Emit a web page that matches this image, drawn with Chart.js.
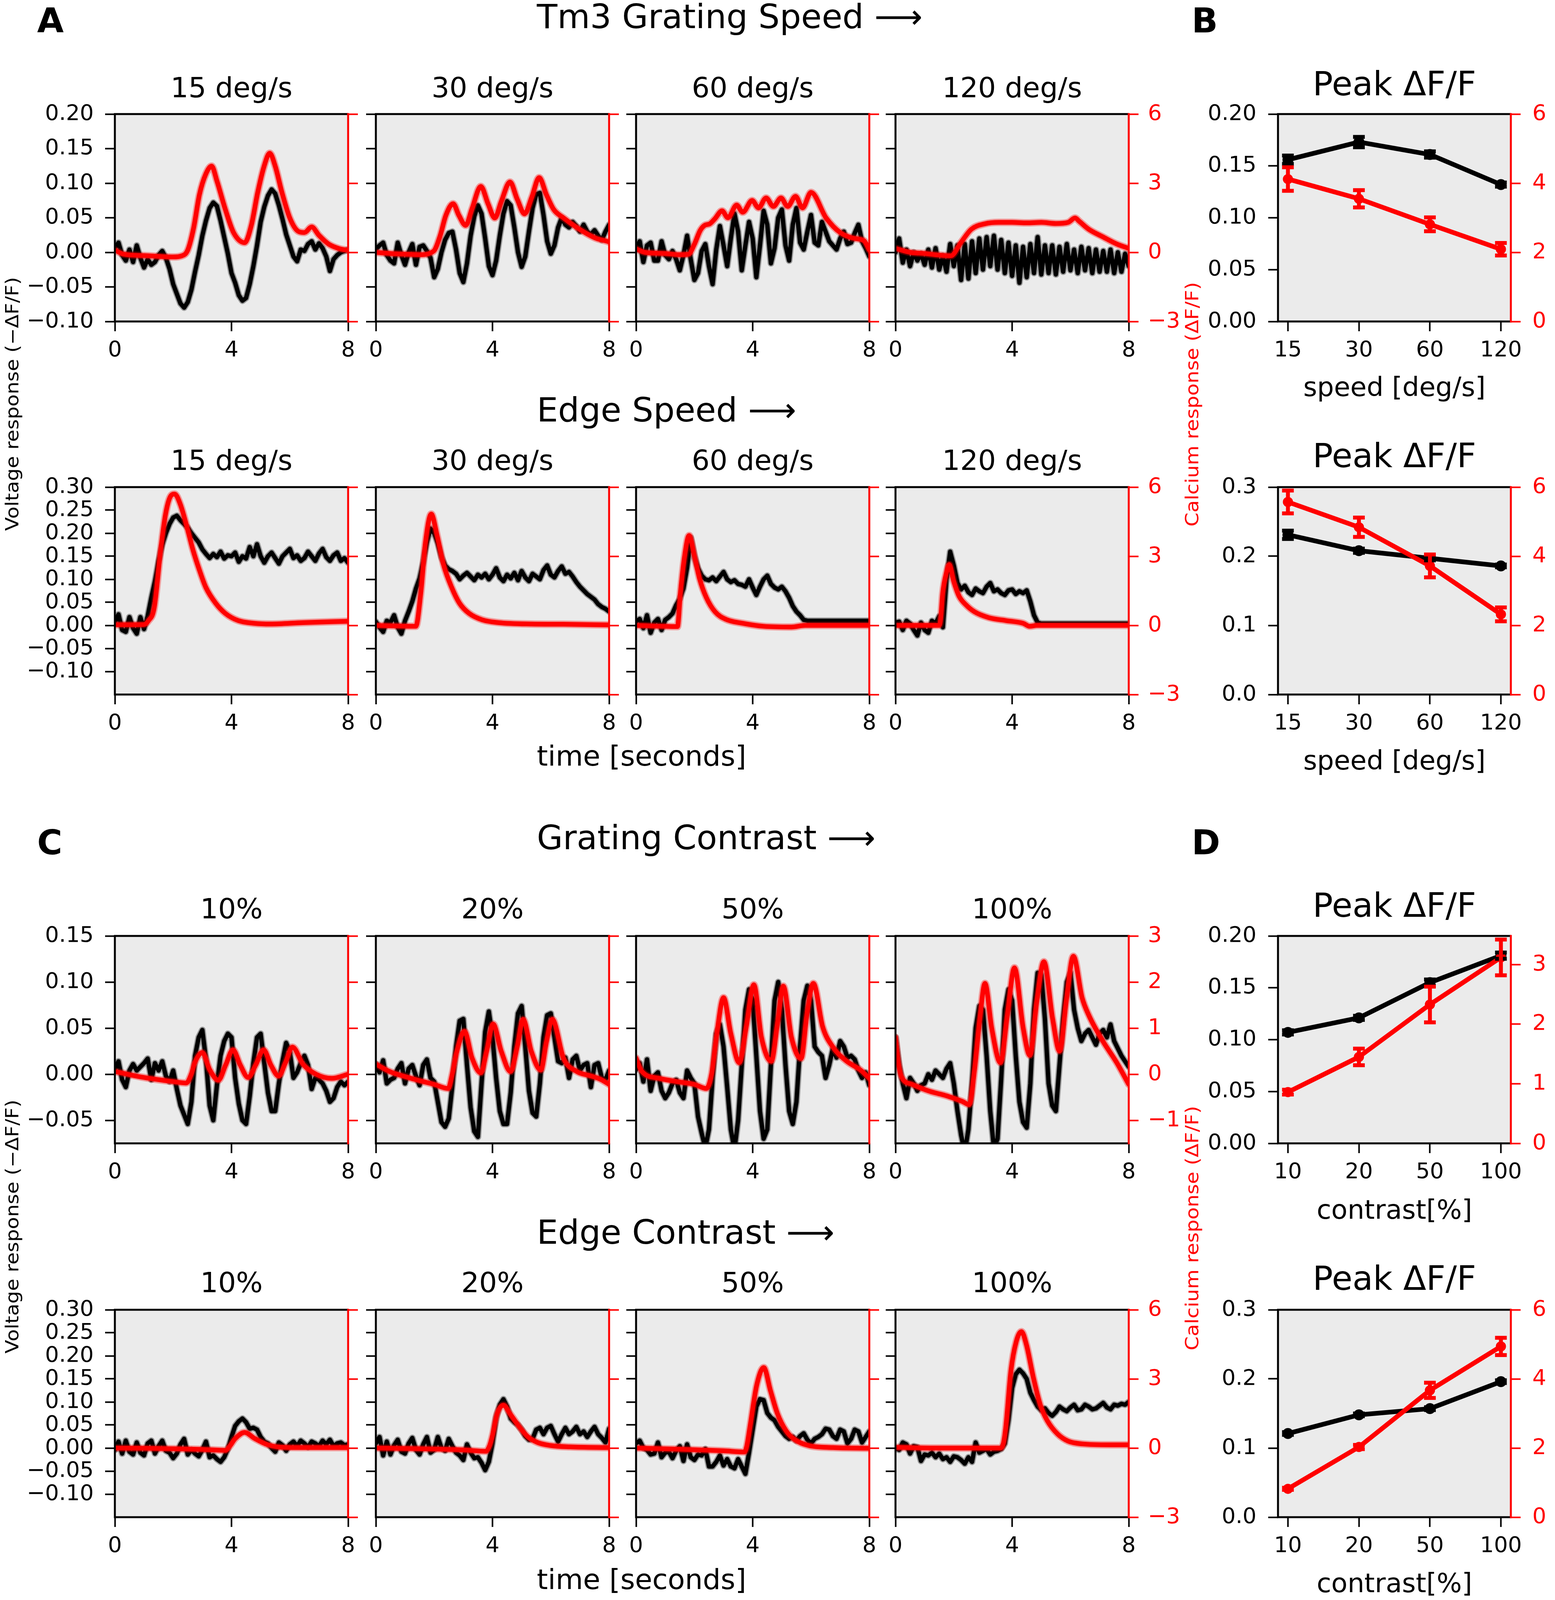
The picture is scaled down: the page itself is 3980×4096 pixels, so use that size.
<!DOCTYPE html>
<html>
<head>
<meta charset="utf-8">
<script src="https://cdn.jsdelivr.net/npm/chart.js@4.4.1/dist/chart.umd.min.js"></script>
<style>
  html, body { margin: 0; padding: 0; background: #fff; }
  #fig { position: relative; width: 3980px; height: 4096px; overflow: hidden; background: #fff; font-family: 'DejaVu Sans', sans-serif; }
  #fig canvas { position: absolute; }
  .txt { position: absolute; white-space: nowrap; line-height: 1; }
</style>
</head>
<body>
<div id="fig"></div>
<script>
//------------------------ DATA ----------------------------

const speedTitles = ["15 deg/s", "30 deg/s", "60 deg/s", "120 deg/s"];
const contrastTitles = ["10%", "20%", "50%", "100%"];
const speedCats = ["15", "30", "60", "120"];
const contrastCats = ["10", "20", "50", "100"];
const timeTicks = [0, 4, 8];
const blackStep = 0.125; // seconds between voltage samples

// Voltage response (-dF/F), one value every 0.125 s from 0 to 8 s
const gsV15 = [
  0.006, 0.014, -0.004, -0.012, 0.004, -0.014, 0.010, -0.008,
  -0.022, -0.010, -0.018, -0.014, -0.004, 0.002, -0.008, -0.024,
  -0.046, -0.060, -0.074, -0.080, -0.072, -0.054, -0.028, -0.004,
  0.024, 0.046, 0.064, 0.072, 0.067, 0.046, 0.022, -0.002,
  -0.030, -0.044, -0.062, -0.070, -0.066, -0.046, -0.020, 0.010,
  0.044, 0.066, 0.082, 0.091, 0.085, 0.068, 0.048, 0.026,
  0.010, -0.006, -0.013, 0.004, 0.002, 0.012, 0.016, 0.004,
  0.013, 0.006, -0.006, -0.027, -0.010, -0.004, 0.000, 0.002,
  0.004];
const gsV30 = [
  0.004, 0.010, 0.014, -0.004, -0.012, -0.016, 0.014, -0.004,
  -0.018, 0.000, 0.012, -0.018, 0.008, 0.010, 0.002, -0.008,
  -0.036, -0.024, 0.000, 0.018, 0.028, 0.030, 0.004, -0.030,
  -0.043, -0.016, 0.024, 0.052, 0.068, 0.056, 0.020, -0.020,
  -0.033, -0.012, 0.024, 0.056, 0.074, 0.068, 0.036, 0.000,
  -0.021, -0.006, 0.030, 0.064, 0.084, 0.086, 0.054, 0.016,
  -0.002, 0.010, 0.036, 0.050, 0.040, 0.036, 0.044, 0.038,
  0.030, 0.040, 0.030, 0.026, 0.032, 0.024, 0.018, 0.030,
  0.040];
const gsV60 = [
  0.004, 0.016, -0.014, 0.010, 0.014, -0.012, -0.012, 0.016,
  -0.004, -0.010, 0.002, -0.010, -0.026, -0.004, 0.024, -0.010,
  -0.040, -0.030, 0.002, 0.012, -0.020, -0.046, 0.004, 0.038,
  0.010, -0.020, 0.020, 0.056, 0.030, -0.026, 0.010, 0.044,
  0.020, -0.036, 0.010, 0.060, 0.040, -0.016, 0.006, 0.050,
  0.062, 0.010, -0.012, 0.040, 0.064, 0.014, 0.004, 0.030,
  0.054, 0.014, 0.010, 0.044, 0.030, 0.016, 0.010, 0.004,
  0.020, 0.030, 0.012, 0.014, 0.028, 0.040, 0.016, 0.006,
  -0.006];
const gsV120 = [
  0.000, 0.020, -0.015, 0.004, -0.020, 0.000, -0.012, -0.002,
  -0.018, 0.004, -0.022, 0.006, -0.025, -0.005, -0.028, 0.012,
  -0.020, 0.010, -0.040, 0.012, -0.038, 0.016, -0.030, 0.020,
  -0.025, 0.022, -0.020, 0.024, -0.025, 0.018, -0.030, 0.014,
  -0.034, 0.010, -0.044, 0.008, -0.036, 0.012, -0.030, 0.022,
  -0.032, 0.010, -0.030, 0.010, -0.032, 0.008, -0.028, 0.012,
  -0.026, 0.004, -0.030, 0.008, -0.026, 0.006, -0.030, 0.004,
  -0.028, 0.002, -0.028, 0.004, -0.030, 0.000, -0.028, -0.002,
  -0.020];
const esV15 = [
  0.006, 0.024, -0.010, -0.014, 0.018, -0.006, -0.018, 0.018,
  -0.008, 0.020, 0.060, 0.096, 0.140, 0.175, 0.200, 0.220,
  0.234, 0.238, 0.228, 0.220, 0.212, 0.200, 0.190, 0.180,
  0.165, 0.155, 0.146, 0.155, 0.148, 0.160, 0.145, 0.152,
  0.150, 0.158, 0.138, 0.150, 0.145, 0.170, 0.150, 0.176,
  0.150, 0.136, 0.150, 0.158, 0.146, 0.134, 0.150, 0.158,
  0.166, 0.146, 0.152, 0.140, 0.146, 0.160, 0.150, 0.140,
  0.156, 0.166, 0.148, 0.140, 0.152, 0.158, 0.140, 0.146,
  0.136];
const esV30 = [
  0.008, -0.004, -0.014, 0.010, 0.006, 0.022, -0.004, -0.018,
  0.010, 0.030, 0.052, 0.080, 0.102, 0.138, 0.180, 0.210,
  0.200, 0.178, 0.148, 0.130, 0.122, 0.118, 0.112, 0.100,
  0.108, 0.114, 0.106, 0.098, 0.110, 0.104, 0.112, 0.100,
  0.110, 0.124, 0.104, 0.096, 0.110, 0.102, 0.114, 0.098,
  0.118, 0.104, 0.096, 0.112, 0.106, 0.100, 0.120, 0.130,
  0.110, 0.104, 0.118, 0.128, 0.112, 0.116, 0.106, 0.094,
  0.084, 0.076, 0.068, 0.062, 0.056, 0.046, 0.040, 0.036,
  0.030];
const esV60 = [
  0.008, 0.014, -0.006, 0.022, -0.016, 0.006, 0.014, -0.010,
  0.012, 0.018, 0.026, 0.044, 0.058, 0.080, 0.125, 0.190,
  0.150, 0.124, 0.108, 0.100, 0.098, 0.104, 0.096, 0.106,
  0.116, 0.100, 0.094, 0.098, 0.090, 0.088, 0.084, 0.100,
  0.082, 0.066, 0.084, 0.100, 0.108, 0.090, 0.082, 0.078,
  0.084, 0.074, 0.060, 0.042, 0.030, 0.022, 0.012, 0.010,
  0.010, 0.010, 0.010, 0.010, 0.010, 0.010, 0.010, 0.010,
  0.010, 0.010, 0.010, 0.010, 0.010, 0.010, 0.010, 0.010,
  0.010];
const esV120 = [
  0.006, 0.008, -0.010, 0.010, 0.004, -0.010, -0.022, 0.006,
  -0.010, -0.016, 0.010, 0.004, 0.020, -0.004, 0.100, 0.160,
  0.130, 0.092, 0.078, 0.086, 0.072, 0.066, 0.080, 0.074,
  0.070, 0.084, 0.092, 0.074, 0.078, 0.070, 0.066, 0.076,
  0.078, 0.068, 0.074, 0.070, 0.076, 0.052, 0.022, 0.006,
  0.004, 0.004, 0.004, 0.004, 0.004, 0.004, 0.004, 0.004,
  0.004, 0.004, 0.004, 0.004, 0.004, 0.004, 0.004, 0.004,
  0.004, 0.004, 0.004, 0.004, 0.004, 0.004, 0.004, 0.004,
  0.004];
const gcV10 = [
  0.005, 0.014, -0.006, -0.014, 0.004, 0.011, 0.004, 0.008,
  0.012, 0.017, -0.006, 0.012, 0.004, 0.014, -0.002, -0.008,
  0.004, -0.016, -0.034, -0.044, -0.054, -0.030, 0.020, 0.040,
  0.048, 0.016, -0.034, -0.050, -0.012, 0.020, 0.036, 0.044,
  0.040, -0.004, -0.032, -0.050, -0.054, -0.024, 0.012, 0.040,
  0.044, 0.012, -0.020, -0.040, -0.040, -0.010, 0.014, 0.034,
  0.024, -0.004, 0.002, 0.012, 0.020, 0.010, -0.016, -0.004,
  -0.006, -0.010, -0.018, -0.030, -0.026, -0.014, -0.008, -0.012,
  -0.008];
const gcV20 = [
  0.011, 0.002, 0.015, -0.010, -0.006, -0.004, 0.006, 0.012,
  -0.010, 0.006, 0.010, -0.002, -0.012, 0.010, 0.016, -0.004,
  -0.008, -0.030, -0.052, -0.057, -0.048, -0.012, 0.030, 0.058,
  0.060, 0.010, -0.036, -0.062, -0.068, -0.010, 0.046, 0.068,
  0.040, -0.004, -0.040, -0.054, -0.054, -0.020, 0.030, 0.066,
  0.074, 0.030, -0.018, -0.042, -0.046, -0.010, 0.040, 0.064,
  0.066, 0.040, 0.014, 0.012, 0.018, -0.004, 0.016, 0.020,
  0.004, 0.010, 0.012, -0.014, 0.010, 0.012, -0.004, -0.006,
  0.004];
const gcV50 = [
  0.005, 0.012, -0.008, 0.016, -0.018, -0.002, 0.002, -0.018,
  -0.026, -0.020, -0.010, -0.006, -0.020, -0.026, 0.004, -0.004,
  -0.010, -0.046, -0.064, -0.080, -0.060, -0.004, 0.044, 0.054,
  0.030, -0.014, -0.060, -0.082, -0.050, 0.010, 0.070, 0.092,
  0.080, 0.020, -0.040, -0.070, -0.060, 0.010, 0.080, 0.100,
  0.070, 0.010, -0.040, -0.054, -0.030, 0.030, 0.080, 0.096,
  0.080, 0.030, 0.024, 0.020, -0.004, 0.010, 0.028, 0.018,
  0.036, 0.030, 0.018, 0.020, 0.016, 0.004, -0.004, 0.002,
  -0.012];
const gcV100 = [
  0.040, 0.010, -0.010, -0.026, -0.004, -0.010, -0.018, -0.012,
  -0.010, 0.000, -0.006, 0.004, 0.000, -0.004, 0.006, 0.012,
  -0.010, -0.040, -0.066, -0.085, -0.060, -0.010, 0.050, 0.074,
  0.070, 0.020, -0.040, -0.080, -0.070, -0.005, 0.070, 0.092,
  0.080, 0.020, -0.030, -0.052, -0.058, -0.010, 0.070, 0.110,
  0.108, 0.060, -0.010, -0.034, -0.040, 0.010, 0.060, 0.100,
  0.110, 0.070, 0.050, 0.036, 0.044, 0.048, 0.040, 0.032,
  0.044, 0.048, 0.040, 0.054, 0.036, 0.028, 0.020, 0.014,
  0.008];
const ecV10 = [
  -0.004, 0.014, -0.012, 0.016, -0.008, -0.014, 0.012, -0.010,
  -0.016, 0.010, 0.016, -0.012, 0.004, 0.016, -0.006, -0.010,
  -0.022, -0.012, 0.008, 0.020, -0.014, -0.004, -0.012, -0.018,
  -0.004, 0.014, -0.020, -0.016, -0.024, -0.030, -0.020, -0.002,
  0.024, 0.048, 0.058, 0.064, 0.056, 0.042, 0.044, 0.040,
  0.024, 0.014, 0.010, 0.000, -0.008, 0.012, 0.006, -0.006,
  0.008, 0.014, 0.004, 0.016, 0.010, 0.002, 0.014, 0.010,
  0.004, 0.016, 0.008, 0.018, 0.004, 0.010, 0.012, 0.006,
  0.008];
const ecV20 = [
  0.010, 0.024, -0.016, 0.014, -0.014, 0.006, 0.018, -0.008,
  -0.012, 0.010, 0.022, -0.004, -0.014, 0.008, 0.024, -0.010,
  -0.004, 0.024, 0.000, -0.006, 0.020, 0.004, -0.010, -0.016,
  -0.026, 0.008, -0.010, -0.022, -0.020, -0.032, -0.048, -0.030,
  0.010, 0.066, 0.094, 0.106, 0.090, 0.064, 0.056, 0.050,
  0.040, 0.026, 0.018, 0.020, 0.040, 0.044, 0.030, 0.044,
  0.048, 0.030, 0.014, 0.030, 0.044, 0.030, 0.036, 0.046,
  0.030, 0.036, 0.024, 0.036, 0.046, 0.030, 0.022, 0.012,
  0.042];
const ecV50 = [
  0.010, 0.016, 0.000, -0.004, -0.014, -0.012, 0.012, -0.020,
  -0.010, -0.008, -0.022, -0.006, 0.004, -0.028, 0.008, -0.020,
  -0.026, -0.014, -0.016, -0.002, -0.040, -0.040, -0.030, -0.016,
  -0.038, -0.024, -0.040, -0.044, -0.024, -0.040, -0.056, -0.010,
  0.040, 0.090, 0.106, 0.104, 0.076, 0.066, 0.060, 0.046,
  0.036, 0.026, 0.020, 0.024, 0.016, 0.026, 0.032, 0.018,
  0.010, 0.020, 0.024, 0.030, 0.042, 0.040, 0.026, 0.020,
  0.040, 0.036, 0.010, 0.020, 0.040, 0.036, 0.012, 0.024,
  0.036];
const ecV100 = [
  0.000, -0.004, 0.012, 0.008, -0.012, 0.004, 0.002, -0.028,
  -0.014, -0.016, -0.010, -0.020, -0.012, -0.024, -0.020, -0.030,
  -0.018, -0.020, -0.026, -0.034, -0.020, -0.030, 0.012, -0.010,
  -0.006, -0.002, -0.014, -0.008, -0.006, -0.002, 0.010, 0.060,
  0.130, 0.160, 0.170, 0.162, 0.150, 0.120, 0.104, 0.090,
  0.082, 0.086, 0.076, 0.070, 0.078, 0.090, 0.084, 0.080,
  0.088, 0.094, 0.082, 0.084, 0.094, 0.090, 0.084, 0.086,
  0.092, 0.098, 0.088, 0.084, 0.094, 0.092, 0.096, 0.094,
  0.100];

// Calcium response (dF/F) as [time s, value] points
const gsC15 = [[0, 0.1], [0.3, -0.08], [1, -0.14], [2, -0.2], [2.3, -0.15], [2.5, 0.1], [2.7, 1.05], [2.9, 2.5], [3.12, 3.4], [3.32, 3.74], [3.5, 3.1], [3.79, 1.86], [4.07, 0.86], [4.45, 0.42], [4.68, 1.17], [4.9, 2.6], [5.12, 3.74], [5.31, 4.3], [5.5, 3.74], [5.73, 2.6], [6.0, 1.49], [6.28, 0.92], [6.5, 0.86], [6.75, 1.1], [7.0, 0.74], [7.33, 0.36], [7.67, 0.17], [8, 0.08]];
const gsC30 = [[0, 0], [0.5, -0.05], [1, -0.08], [1.5, -0.1], [1.98, 0.05], [2.2, 0.7], [2.4, 1.6], [2.65, 2.11], [2.85, 1.6], [3.08, 1.17], [3.3, 1.9], [3.6, 2.86], [3.85, 2.1], [4.08, 1.49], [4.3, 2.2], [4.6, 3.05], [4.85, 2.3], [5.1, 1.67], [5.35, 2.4], [5.6, 3.24], [5.85, 2.5], [6.1, 1.86], [6.44, 1.49], [7.0, 0.99], [7.55, 0.61], [7.9, 0.49], [8, 0.45]];
const gsC60 = [[0, 0.15], [0.3, 0], [1, -0.05], [1.5, -0.1], [1.8, -0.08], [2.0, 0.35], [2.2, 0.95], [2.35, 1.17], [2.53, 1.24], [2.7, 1.45], [2.95, 1.8], [3.15, 1.5], [3.45, 2.05], [3.66, 1.74], [3.98, 2.25], [4.2, 1.93], [4.46, 2.36], [4.71, 1.99], [4.97, 2.36], [5.2, 1.99], [5.47, 2.43], [5.71, 1.93], [6.0, 2.6], [6.52, 1.49], [7.0, 0.86], [7.47, 0.61], [7.82, 0.5], [8, 0.1]];
const gsC120 = [[0, 0.17], [0.5, 0.0], [1, -0.05], [1.5, -0.12], [1.9, -0.15], [2.24, 0.42], [2.6, 1.0], [3.07, 1.24], [3.54, 1.3], [4, 1.3], [4.5, 1.28], [5, 1.3], [5.5, 1.25], [5.92, 1.3], [6.16, 1.49], [6.3, 1.35], [6.63, 1.0], [7.1, 0.68], [7.59, 0.36], [8, 0.17]];
const esC15 = [[0, 0.03], [1.0, 0.04], [1.15, 0.2], [1.35, 0.77], [1.57, 3.27], [1.74, 4.83], [1.9, 5.58], [2.05, 5.7], [2.24, 5.27], [2.46, 4.33], [2.68, 3.27], [2.9, 2.4], [3.12, 1.65], [3.46, 0.96], [3.79, 0.52], [4.23, 0.21], [4.79, 0.09], [5.34, 0.06], [6.45, 0.12], [8, 0.18]];
const esC30 = [[0, 0], [1.37, -0.04], [1.54, 1.4], [1.7, 3.58], [1.9, 4.83], [2.1, 3.9], [2.32, 2.64], [2.6, 1.65], [2.87, 0.96], [3.2, 0.52], [3.65, 0.24], [4.21, 0.12], [5.33, 0.06], [6.44, 0.05], [8, 0.02]];
const esC60 = [[0, 0], [1.42, -0.05], [1.52, 1.4], [1.66, 2.96], [1.82, 3.9], [2.0, 3.02], [2.18, 2.02], [2.41, 1.21], [2.71, 0.59], [3.07, 0.27], [3.66, 0.09], [4.38, -0.04], [5.33, -0.07], [5.8, 0], [8, 0]];
const esC120 = [[0, 0], [1.5, 0.0], [1.55, 0.3], [1.62, 1.4], [1.75, 2.3], [1.84, 2.64], [2.0, 1.9], [2.18, 1.27], [2.41, 0.9], [2.71, 0.59], [3.19, 0.34], [3.78, 0.21], [4.38, 0.09], [4.61, -0.04], [4.85, 0], [8, 0]];
const gcC10 = [[0, 0.06], [0.9, -0.06], [2.0, -0.16], [2.45, -0.19], [2.62, 0.0], [2.74, 0.25], [3.0, 0.47], [3.25, 0.1], [3.55, -0.13], [3.8, 0.2], [4.05, 0.53], [4.3, 0.2], [4.57, -0.07], [4.83, 0.2], [5.1, 0.53], [5.35, 0.2], [5.62, -0.04], [5.85, 0.25], [6.09, 0.59], [6.45, 0.22], [6.9, 0.0], [7.44, -0.09], [8, 0.0]];
const gcC20 = [[0, 0.22], [0.5, 0.05], [1.0, -0.05], [1.5, -0.14], [2.0, -0.22], [2.48, -0.31], [2.62, 0.0], [2.76, 0.45], [3.04, 0.93], [3.3, 0.35], [3.6, 0.03], [3.8, 0.5], [4.02, 1.09], [4.3, 0.5], [4.62, 0.06], [4.85, 0.6], [5.05, 1.19], [5.33, 0.5], [5.66, 0.09], [5.85, 0.7], [6.05, 1.19], [6.44, 0.34], [6.89, 0.06], [7.33, -0.03], [7.67, -0.1], [8, -0.22]];
const gcC50 = [[0, 0.35], [0.2, 0.06], [0.8, -0.09], [1.4, -0.16], [2.0, -0.22], [2.41, -0.31], [2.59, 0.0], [2.77, 0.88], [3.0, 1.66], [3.25, 0.88], [3.54, 0.25], [3.78, 1.03], [4.04, 1.94], [4.3, 0.8], [4.64, 0.28], [4.85, 1.1], [5.05, 1.91], [5.33, 0.8], [5.66, 0.34], [5.86, 1.3], [6.08, 1.97], [6.4, 1.03], [6.75, 0.59], [7.23, 0.28], [7.7, 0.09], [8, -0.09]];
const gcC100 = [[0, 0.8], [0.1, 0.25], [0.21, -0.06], [0.57, -0.22], [1.17, -0.37], [1.76, -0.47], [2.29, -0.59], [2.53, -0.66], [2.71, 0.09], [2.89, 1.19], [3.07, 1.97], [3.3, 1.0], [3.6, 0.25], [3.84, 1.3], [4.08, 2.31], [4.38, 1.0], [4.61, 0.41], [4.85, 1.6], [5.09, 2.44], [5.39, 1.2], [5.63, 0.5], [5.86, 1.6], [6.1, 2.56], [6.4, 1.66], [6.63, 1.28], [7.11, 0.72], [7.59, 0.25], [8, -0.22]];
const ecC10 = [[0, 0.0], [1, -0.01], [2, -0.03], [3, -0.06], [3.79, -0.1], [3.95, 0.1], [4.12, 0.4], [4.45, 0.68], [4.79, 0.42], [5.23, 0.15], [5.67, 0.04], [6.5, 0.02], [8, 0.02]];
const ecC20 = [[0, 0.0], [1.5, -0.03], [3, -0.08], [3.77, -0.14], [3.9, 0.1], [4.0, 0.55], [4.16, 1.49], [4.38, 1.86], [4.6, 1.49], [4.88, 0.99], [5.21, 0.49], [5.55, 0.24], [5.99, 0.11], [6.66, 0.05], [8, 0.02]];
const ecC50 = [[0, 0.0], [1.5, -0.05], [3.0, -0.12], [3.72, -0.17], [3.8, 0.1], [3.9, 0.86], [4.14, 2.74], [4.38, 3.49], [4.61, 2.49], [4.85, 1.49], [5.15, 0.74], [5.45, 0.36], [5.92, 0.11], [6.75, 0.02], [8, -0.01]];
const ecC100 = [[0, 0.03], [1.5, 0.0], [3.0, 0.0], [3.6, 0.0], [3.7, 0.2], [3.78, 0.86], [3.96, 3.36], [4.14, 4.61], [4.32, 5.05], [4.49, 4.49], [4.73, 3.05], [4.97, 1.86], [5.21, 1.18], [5.56, 0.61], [5.92, 0.3], [6.4, 0.18], [7.35, 0.14], [8, 0.14]];

// Peak dF/F summaries (mean and error)
const gsPeakV = [0.156, 0.173, 0.161, 0.132];
const gsPeakVErr = [0.004, 0.005, 0.003, 0.002];
const gsPeakC = [4.12, 3.55, 2.81, 2.09];
const gsPeakCErr = [0.34, 0.25, 0.2, 0.18];
const esPeakV = [0.231, 0.208, 0.197, 0.186];
const esPeakVErr = [0.006, 0.003, 0.003, 0.002];
const esPeakC = [5.57, 4.84, 3.72, 2.32];
const esPeakCErr = [0.33, 0.28, 0.33, 0.2];
const gcPeakV = [0.107, 0.121, 0.155, 0.181];
const gcPeakVErr = [0.002, 0.002, 0.003, 0.003];
const gcPeakC = [0.86, 1.45, 2.33, 3.12];
const gcPeakCErr = [0.04, 0.14, 0.3, 0.3];
const ecPeakV = [0.121, 0.148, 0.157, 0.196];
const ecPeakVErr = [0.002, 0.002, 0.002, 0.002];
const ecPeakC = [0.82, 2.03, 3.67, 4.94];
const ecPeakCErr = [0.03, 0.06, 0.22, 0.25];

// Axis ranges and tick values
const gsLeftTicks = [-0.10, -0.05, 0, 0.05, 0.10, 0.15, 0.20];
const esLeftTicks = [-0.10, -0.05, 0, 0.05, 0.10, 0.15, 0.20, 0.25, 0.30];
const gcLeftTicks = [-0.05, 0, 0.05, 0.10, 0.15];
const wideRightTicks = [-3, 0, 3, 6];
const gcRightTicks = [-1, 0, 1, 2, 3];
const peakLeftTicksFine = [0, 0.05, 0.10, 0.15, 0.20];
const peakLeftTicksCoarse = [0, 0.1, 0.2, 0.3];
const peakRightTicks = [0, 2, 4, 6];
const gcPeakRightTicks = [0, 1, 2, 3];

//------------------------ LAYOUT & STYLE ----------------------------

const fig = document.getElementById("fig");
const RED = "#ff0000";
const AX_BG = "#ebebeb";
const TICK_FS = 56;
const SPINE = 5;
const COL_X = [294, 962, 1628, 2292];
const ROW_Y = [292, 1247, 2396, 3353];
const PW = 597, PH = 531;
const PEAK_X = 3271, PEAK_W = 596;

Chart.defaults.font.family = "'DejaVu Sans', sans-serif";

function makeCanvas(left, top, w, h) {
  const c = document.createElement("canvas");
  c.width = w;
  c.height = h;
  c.style.left = left + "px";
  c.style.top = top + "px";
  c.style.width = w + "px";
  c.style.height = h + "px";
  fig.appendChild(c);
  return c;
}

function signed(v, d) {
  return (v < -1e-9 ? "\u2212" : "") + Math.abs(v).toFixed(d);
}

// gray axes background + matplotlib-like spines
const framePlugin = {
  id: "frame",
  beforeDraw(chart) {
    const a = chart.chartArea, ctx = chart.ctx;
    ctx.save();
    ctx.fillStyle = AX_BG;
    ctx.fillRect(a.left, a.top, a.right - a.left, a.bottom - a.top);
    ctx.restore();
  },
  afterDraw(chart) {
    const a = chart.chartArea, ctx = chart.ctx, h = SPINE / 2;
    ctx.save();
    ctx.lineWidth = SPINE;
    ctx.strokeStyle = "#000";
    ctx.beginPath();
    ctx.moveTo(a.left, a.bottom + h); ctx.lineTo(a.left, a.top - h);
    ctx.moveTo(a.left - h, a.top); ctx.lineTo(a.right, a.top);
    ctx.moveTo(a.left - h, a.bottom); ctx.lineTo(a.right, a.bottom);
    ctx.stroke();
    ctx.strokeStyle = RED;
    ctx.beginPath();
    ctx.moveTo(a.right, a.top - h); ctx.lineTo(a.right, a.bottom + h);
    ctx.stroke();
    ctx.restore();
  },
};

// vertical error bars with caps for datasets that carry an `errors` array
const errorBarPlugin = {
  id: "errorBars",
  afterDatasetsDraw(chart) {
    const ctx = chart.ctx;
    const sets = chart.data.datasets;
    for (let i = sets.length - 1; i >= 0; i--) {
      const ds = sets[i];
      if (!ds.errors) continue;
      const ys = chart.scales[ds.yAxisID], xs = chart.scales.x;
      ctx.save();
      ctx.strokeStyle = ds.borderColor;
      ctx.lineWidth = 10;
      ds.data.forEach((p, j) => {
        const e = ds.errors[j];
        const px = xs.getPixelForValue(p.x);
        const lo = ys.getPixelForValue(p.y - e), hi = ys.getPixelForValue(p.y + e);
        ctx.beginPath();
        ctx.moveTo(px, lo); ctx.lineTo(px, hi);
        ctx.moveTo(px - 15, lo); ctx.lineTo(px + 15, lo);
        ctx.moveTo(px - 15, hi); ctx.lineTo(px + 15, hi);
        ctx.stroke();
      });
      ctx.restore();
    }
  },
};

function tickGrid(color) {
  return { display: true, drawOnChartArea: false, drawTicks: true, tickLength: 25, tickWidth: 4, tickColor: color };
}

function zeroPad(s) {
  s.paddingTop = 0; s.paddingBottom = 0; s.paddingLeft = 0; s.paddingRight = 0;
}

function xScale(min, max, values, labels, padB) {
  return {
    type: "linear", position: "bottom", min: min, max: max,
    afterBuildTicks: (s) => { s.ticks = values.map((v) => ({ value: v })); },
    afterFit: (s) => { s.height = padB; zeroPad(s); },
    grid: tickGrid("#000"),
    border: { display: false },
    ticks: {
      color: "#000", font: { size: TICK_FS }, padding: 16,
      autoSkip: false, maxRotation: 0, minRotation: 0,
      callback: (v, i) => (labels ? labels[i] : String(v)),
    },
  };
}

function yScale(position, min, max, values, opts) {
  return {
    type: "linear", position: position, min: min, max: max,
    afterBuildTicks: (s) => { s.ticks = values.map((v) => ({ value: v })); },
    afterFit: (s) => { s.width = opts.width; zeroPad(s); },
    grid: tickGrid(opts.color),
    border: { display: false },
    ticks: {
      color: opts.color, font: { size: TICK_FS }, padding: opts.padding,
      autoSkip: false, maxRotation: 0, minRotation: 0,
      callback: (v) => (opts.show ? signed(v, opts.dec) : ""),
    },
  };
}

function baseOptions(padT, scales) {
  return {
    responsive: false,
    animation: false,
    devicePixelRatio: 1,
    layout: { autoPadding: false, padding: { top: padT, left: 0, right: 0, bottom: 0 } },
    plugins: { legend: { display: false }, tooltip: { enabled: false }, title: { display: false } },
    elements: { point: { radius: 0 }, line: { borderJoinStyle: "round", borderCapStyle: "round" } },
    scales: scales,
  };
}

//------------------------ TRACE PANELS ----------------------------

function tracePanel(col, row, axes, black, red) {
  const left = COL_X[col], top = ROW_Y[row];
  const padL = col === 0 ? 240 : 40;
  const padR = col === 3 ? 140 : 40;
  const padT = 40, padB = 110;
  const canvas = makeCanvas(left - padL, top - padT, PW + padL + padR, PH + padT + padB);
  const blackPts = black.map((v, i) => ({ x: i * blackStep, y: v }));
  const redPts = red.map((p) => ({ x: p[0], y: p[1] }));
  new Chart(canvas, {
    type: "line",
    data: {
      datasets: [
        { data: redPts, yAxisID: "y2", borderColor: RED, borderWidth: 12, cubicInterpolationMode: "monotone", clip: 0, order: 0 },
        { data: redPts, yAxisID: "y2", borderColor: "rgba(255,0,0,0.35)", borderWidth: 19, cubicInterpolationMode: "monotone", clip: 0, order: 1 },
        { data: blackPts, yAxisID: "y", borderColor: "#000", borderWidth: 11, tension: 0, clip: 0, order: 2 },
        { data: blackPts, yAxisID: "y", borderColor: "rgba(0,0,0,0.35)", borderWidth: 17, tension: 0, clip: 0, order: 3 },
      ],
    },
    options: baseOptions(padT, {
      x: xScale(0, 8, timeTicks, null, padB),
      y: yScale("left", axes.yMin, axes.yMax, axes.yTicks, { width: padL, color: "#000", padding: 29, show: col === 0, dec: 2 }),
      y2: yScale("right", axes.rMin, axes.rMax, axes.rTicks, { width: padR, color: RED, padding: 24, show: col === 3, dec: 0 }),
    }),
    plugins: [framePlugin],
  });
}

const gsAxes = { yMin: -0.10, yMax: 0.20, yTicks: gsLeftTicks, rMin: -3, rMax: 6, rTicks: wideRightTicks };
const esAxes = { yMin: -0.15, yMax: 0.30, yTicks: esLeftTicks, rMin: -3, rMax: 6, rTicks: wideRightTicks };
const gcAxes = { yMin: -0.075, yMax: 0.15, yTicks: gcLeftTicks, rMin: -1.5, rMax: 3, rTicks: gcRightTicks };

[gsV15, gsV30, gsV60, gsV120].forEach((b, i) => tracePanel(i, 0, gsAxes, b, [gsC15, gsC30, gsC60, gsC120][i]));
[esV15, esV30, esV60, esV120].forEach((b, i) => tracePanel(i, 1, esAxes, b, [esC15, esC30, esC60, esC120][i]));
[gcV10, gcV20, gcV50, gcV100].forEach((b, i) => tracePanel(i, 2, gcAxes, b, [gcC10, gcC20, gcC50, gcC100][i]));
[ecV10, ecV20, ecV50, ecV100].forEach((b, i) => tracePanel(i, 3, esAxes, b, [ecC10, ecC20, ecC50, ecC100][i]));

//------------------------ PEAK PANELS ----------------------------

function peakPanel(row, cats, v, vErr, c, cErr, yMax, yTicks, yDec, rMax, rTicks) {
  const top = ROW_Y[row];
  const padL = 200, padR = 110, padT = 40, padB = 110;
  const canvas = makeCanvas(PEAK_X - padL, top - padT, PEAK_W + padL + padR, PH + padT + padB);
  new Chart(canvas, {
    type: "line",
    data: {
      datasets: [
        { data: c.map((y, i) => ({ x: i, y: y })), yAxisID: "y2", borderColor: RED, borderWidth: 12,
          pointRadius: 13, pointBackgroundColor: RED, pointBorderWidth: 0, tension: 0, errors: cErr, order: 0 },
        { data: v.map((y, i) => ({ x: i, y: y })), yAxisID: "y", borderColor: "#000", borderWidth: 12,
          pointRadius: 14, pointBackgroundColor: "#000", pointBorderWidth: 0, tension: 0, errors: vErr, order: 1 },
      ],
    },
    options: baseOptions(padT, {
      x: xScale(-0.14, 3.14, [0, 1, 2, 3], cats, padB),
      y: yScale("left", 0, yMax, yTicks, { width: padL, color: "#000", padding: 30, show: true, dec: yDec }),
      y2: yScale("right", 0, rMax, rTicks, { width: padR, color: RED, padding: 30, show: true, dec: 0 }),
    }),
    plugins: [framePlugin, errorBarPlugin],
  });
}

peakPanel(0, speedCats, gsPeakV, gsPeakVErr, gsPeakC, gsPeakCErr, 0.20, peakLeftTicksFine, 2, 6, peakRightTicks);
peakPanel(1, speedCats, esPeakV, esPeakVErr, esPeakC, esPeakCErr, 0.30, peakLeftTicksCoarse, 1, 6, peakRightTicks);
peakPanel(2, contrastCats, gcPeakV, gcPeakVErr, gcPeakC, gcPeakCErr, 0.20, peakLeftTicksFine, 2, 3.48, gcPeakRightTicks);
peakPanel(3, contrastCats, ecPeakV, ecPeakVErr, ecPeakC, ecPeakCErr, 0.30, peakLeftTicksCoarse, 1, 6, peakRightTicks);

//------------------------ TEXT ----------------------------

function addText(str, x, base, size, opt) {
  opt = opt || {};
  const el = document.createElement("div");
  el.className = "txt";
  el.textContent = str;
  el.style.fontSize = size + "px";
  el.style.color = opt.color || "#000";
  if (opt.bold) el.style.fontWeight = "bold";
  el.style.left = x + "px";
  el.style.top = (base - 0.846 * size) + "px";
  if (opt.center) el.style.transform = "translateX(-50%)";
  fig.appendChild(el);
}

function addVText(str, cx, cy, size, len, color) {
  const el = document.createElement("div");
  el.className = "txt";
  el.textContent = str;
  el.style.fontSize = size + "px";
  el.style.color = color;
  fig.appendChild(el);
  const w = el.offsetWidth;
  el.style.left = cx + "px";
  el.style.top = cy + "px";
  el.style.transform = "translate(-50%,-50%) rotate(-90deg) scaleX(" + (len / w) + ")";
}

addText("A", 95, 83, 88, { bold: true });
addText("B", 3050, 83, 88, { bold: true });
addText("C", 95, 2187, 88, { bold: true });
addText("D", 3050, 2187, 88, { bold: true });

addText("Tm3 Grating Speed \u27F6", 1374, 72, 86);
addText("Edge Speed \u27F6", 1374, 1079, 86);
addText("Grating Contrast \u27F6", 1374, 2174, 86);
addText("Edge Contrast \u27F6", 1374, 3184, 86);

const titleBase = [249, 1203, 2351, 3308];
[speedTitles, speedTitles, contrastTitles, contrastTitles].forEach((names, r) => {
  names.forEach((t, c) => addText(t, COL_X[c] + PW / 2, titleBase[r], 72, { center: true }));
});

const peakCx = PEAK_X + PEAK_W / 2;
[244, 1196, 2347, 3302].forEach((b) => addText("Peak \u0394F/F", peakCx, b, 86, { center: true }));

addText("time [seconds]", 1374, 1960, 72);
addText("time [seconds]", 1374, 4068, 72);
addText("speed [deg/s]", peakCx, 1015, 68, { center: true });
addText("speed [deg/s]", peakCx, 1971, 68, { center: true });
addText("contrast[%]", peakCx, 3121, 68, { center: true });
addText("contrast[%]", peakCx, 4077, 68, { center: true });

addVText("Voltage response (\u2212\u0394F/F)", 31, 1034, 46, 650, "#000");
addVText("Voltage response (\u2212\u0394F/F)", 31, 3140, 46, 650, "#000");
addVText("Calcium response (\u0394F/F)", 3051, 1035, 46, 626, RED);
addVText("Calcium response (\u0394F/F)", 3051, 3144, 46, 626, RED);
</script>
</body>
</html>
